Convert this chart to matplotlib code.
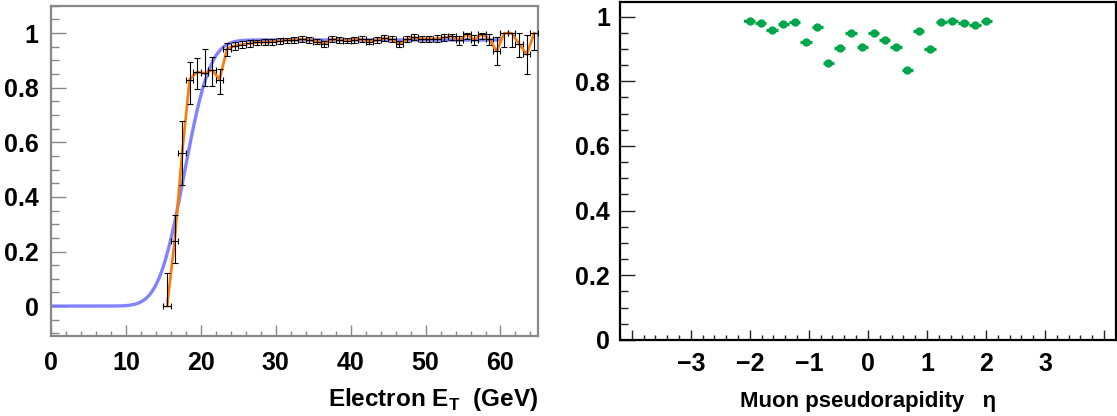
"""
Trigger efficiency plots: electron ET turn-on (left) and muon eta (right).
"""

import math

import matplotlib
matplotlib.use("Agg")
import matplotlib.pyplot as plt
import numpy as np
from matplotlib.ticker import FormatStrFormatter, MultipleLocator

plt.rcParams["font.family"] = ["Liberation Sans", "DejaVu Sans"]
plt.rcParams["font.weight"] = "bold"
plt.rcParams["mathtext.fontset"] = "custom"
plt.rcParams["mathtext.rm"] = "Liberation Sans:bold"
plt.rcParams["mathtext.bf"] = "Liberation Sans:bold"

# electron ET efficiency, 1 GeV bins from 15 to 65 GeV
et_edges = np.arange(15, 66)
et_eff = [0.0, 0.24, 0.56, 0.83, 0.858, 0.853, 0.865, 0.83, 0.943, 0.953,
          0.958, 0.962, 0.966, 0.967, 0.968, 0.971, 0.973, 0.975, 0.978, 0.975,
          0.969, 0.96, 0.979, 0.974, 0.972, 0.975, 0.978, 0.969, 0.974, 0.982,
          0.977, 0.96, 0.978, 0.984, 0.979, 0.979, 0.980, 0.984, 0.988, 0.974,
          0.996, 0.975, 0.996, 0.978, 0.934, 1.0, 1.0, 0.96, 0.922, 1.0]
et_err_lo = [0.0, 0.083, 0.115, 0.09, 0.064, 0.045, 0.06, 0.052, 0.025, 0.016,
             0.013, 0.012, 0.011, 0.011, 0.01, 0.01, 0.01, 0.01, 0.01, 0.01,
             0.01, 0.011, 0.01, 0.01, 0.01, 0.01, 0.01, 0.01, 0.01, 0.01,
             0.011, 0.012, 0.011, 0.011, 0.011, 0.012, 0.012, 0.012, 0.012, 0.016,
             0.016, 0.018, 0.017, 0.02, 0.052, 0.05, 0.05, 0.046, 0.07, 0.06]
et_err_hi = [0.12, 0.095, 0.118, 0.065, 0.05, 0.09, 0.048, 0.04, 0.02, 0.015,
             0.012, 0.011, 0.01, 0.01, 0.01, 0.01, 0.01, 0.01, 0.01, 0.01,
             0.01, 0.011, 0.01, 0.01, 0.01, 0.01, 0.01, 0.01, 0.01, 0.01,
             0.011, 0.012, 0.011, 0.011, 0.011, 0.012, 0.012, 0.011, 0.01, 0.016,
             0.004, 0.018, 0.004, 0.02, 0.052, 0.0, 0.0, 0.04, 0.07, 0.0]

# turn-on fit (error function), drawn from 0 to 60 GeV
fit_plateau = 0.975
fit_mu = 17.8
fit_sigma = 2.7
fit_range = (0, 60)

# muon eta efficiency, 22 bins between -2.1 and 2.1
eta_edges = np.linspace(-2.1, 2.1, 23)
eta_eff = [0.985, 0.979, 0.960, 0.976, 0.984, 0.920, 0.969, 0.855, 0.904, 0.949,
           0.907, 0.950, 0.927, 0.905, 0.836, 0.955, 0.899, 0.984, 0.985, 0.981,
           0.974, 0.988]
eta_err = [0.006] * 22

orange = "#ff7a00"
blue = "#7474ff"
green = "#00a64a"

fig = plt.figure(figsize=(11.17, 4.16), dpi=100)

# ---- left: electron ET ----
ax1 = fig.add_axes([0.0457, 0.192, 0.4359, 0.794])
xf = np.linspace(fit_range[0], fit_range[1], 400)
erf = np.vectorize(math.erf)
yf = fit_plateau * 0.5 * (1 + erf((xf - fit_mu) / (math.sqrt(2) * fit_sigma)))
ax1.plot(xf, yf, color=blue, lw=2.4, alpha=0.9, zorder=2)

et_c = 0.5 * (et_edges[:-1] + et_edges[1:])
et_w = 0.5 * np.diff(et_edges)
ax1.plot(et_c, et_eff, color=orange, lw=1.9, zorder=3)
ax1.errorbar(et_c, et_eff, yerr=[et_err_lo, et_err_hi], xerr=et_w, fmt="none",
             ecolor="black", elinewidth=0.8, capsize=2.0, capthick=0.8, zorder=4)

ax1.set_xlim(0, 65)
ax1.set_ylim(-0.11, 1.1)
ax1.xaxis.set_major_locator(MultipleLocator(10))
ax1.xaxis.set_minor_locator(MultipleLocator(2))
ax1.yaxis.set_major_locator(MultipleLocator(0.2))
ax1.yaxis.set_minor_locator(MultipleLocator(0.05))
ax1.yaxis.set_major_formatter(FormatStrFormatter("%g"))
for s in ax1.spines.values():
    s.set_color("#888888")
    s.set_linewidth(1.6)
ax1.tick_params(which="both", direction="in", colors="#888888", labelcolor="black",
                labelsize=18)
ax1.tick_params(axis="y", which="major", length=11, width=1.0, pad=9)
ax1.tick_params(axis="y", which="minor", length=5.5, width=1.0)
ax1.tick_params(axis="x", which="major", length=8, width=1.0, pad=11)
ax1.tick_params(axis="x", which="minor", length=3.5, width=1.0)
ax1.set_xlabel("Electron E$_{\\mathrm{T}}$  (GeV)", fontsize=17.5, fontweight="bold",
               ha="right")
ax1.xaxis.set_label_coords(1.0, -0.15)

# ---- right: muon eta ----
ax2 = fig.add_axes([0.555, 0.183, 0.444, 0.812])
eta_c = 0.5 * (eta_edges[:-1] + eta_edges[1:])
eta_w = 0.5 * np.diff(eta_edges)
ax2.errorbar(eta_c, eta_eff, yerr=eta_err, xerr=eta_w, fmt="o", ms=5,
             color=green, mec=green, ecolor=green, elinewidth=2.4, capsize=0,
             zorder=3)
ax2.errorbar(eta_c[:1], eta_eff[:1], xerr=eta_w[:1], yerr=eta_err[:1], fmt="none",
             ecolor="#444444", elinewidth=1.6, capsize=0, zorder=2)

ax2.set_xlim(-4.2, 4.2)
ax2.set_ylim(0, 1.045)
ax2.set_xticks(range(-4, 5))
ax2.set_xticklabels(["", "\u22123", "\u22122", "\u22121", "0", "1", "2", "3", ""])
ax2.xaxis.set_minor_locator(MultipleLocator(0.2))
ax2.yaxis.set_major_locator(MultipleLocator(0.2))
ax2.yaxis.set_minor_locator(MultipleLocator(0.05))
ax2.yaxis.set_major_formatter(FormatStrFormatter("%g"))
for s in ax2.spines.values():
    s.set_color("black")
    s.set_linewidth(1.6)
ax2.tick_params(which="both", direction="in", colors="#222222", labelcolor="black",
                labelsize=18)
ax2.tick_params(axis="y", which="major", length=11, width=1.0, pad=7)
ax2.tick_params(axis="y", which="minor", length=5.5, width=1.0)
ax2.tick_params(axis="x", which="major", length=7.5, width=1.0, pad=9)
ax2.tick_params(axis="x", which="minor", length=3.5, width=1.0)
ax2.set_xlabel("Muon pseudorapidity   \u03b7", fontsize=16, fontweight="bold")
ax2.xaxis.set_label_coords(0.5, -0.15)

fig.savefig("out.png", dpi=100)
